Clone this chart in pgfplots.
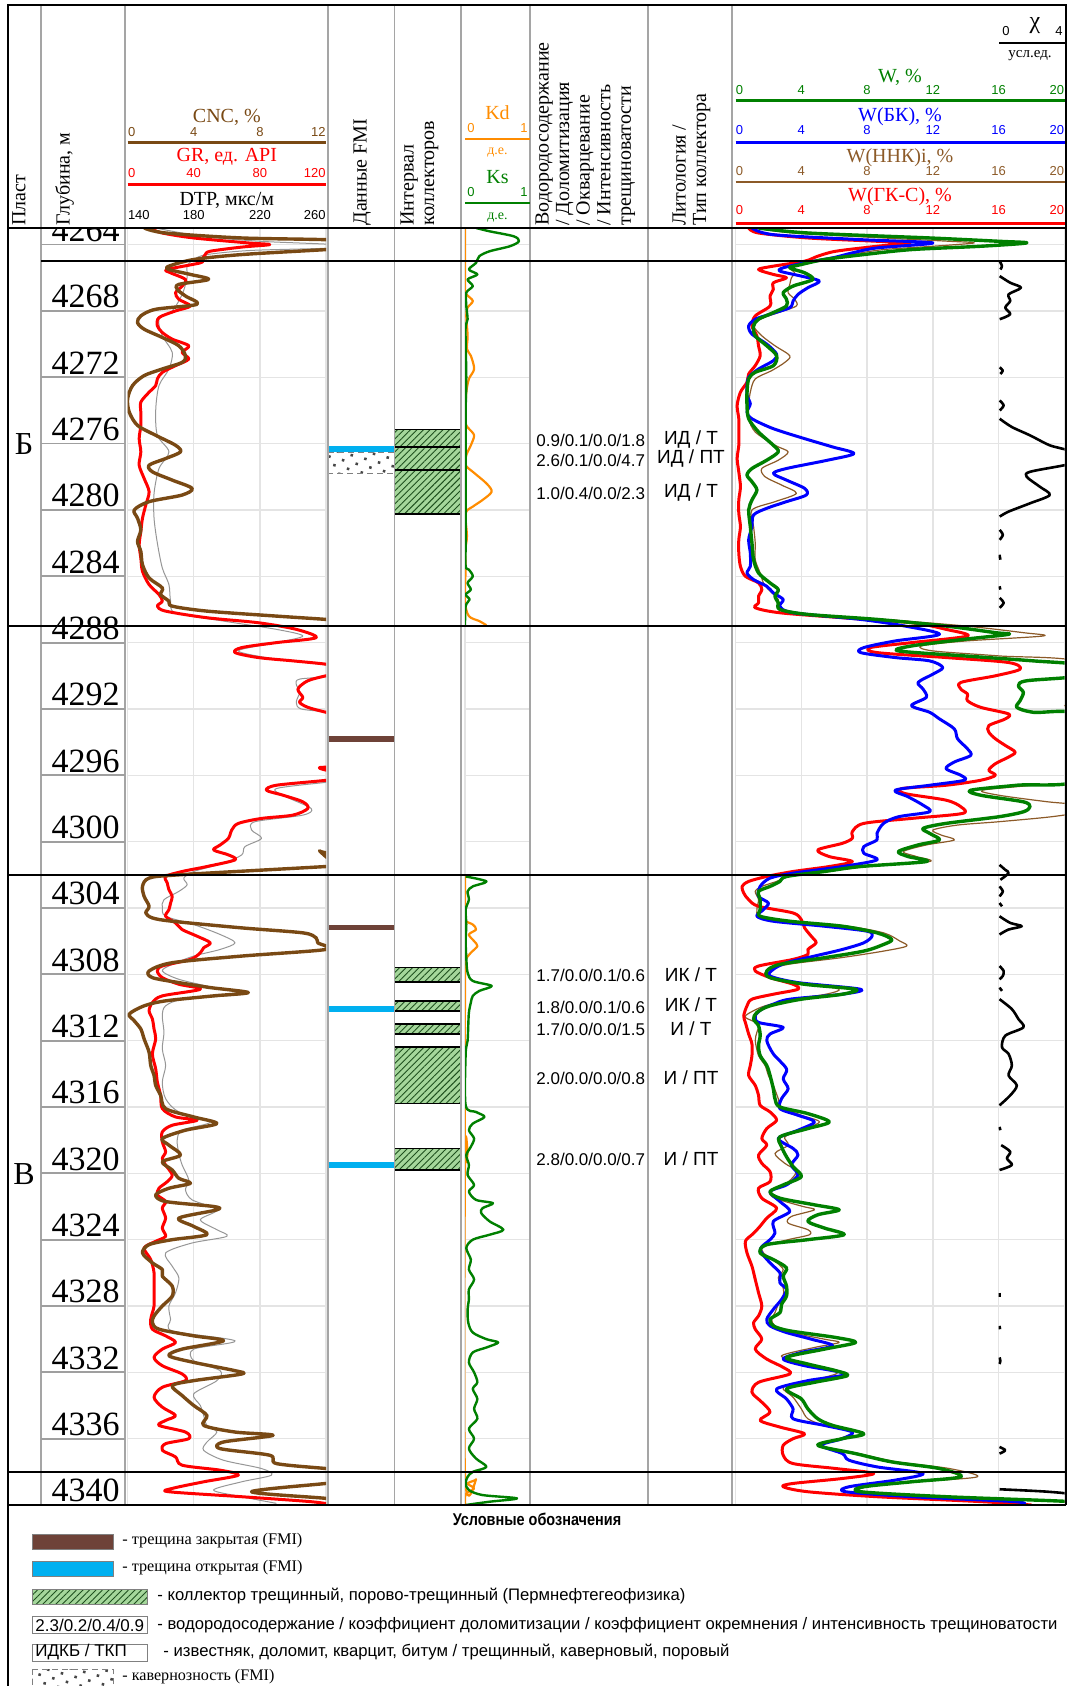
\documentclass[border=0pt]{standalone}
\usepackage{fontspec}
\setmainfont{Liberation Serif}
\setsansfont{Liberation Sans}
\usepackage{pgfplots}
\pgfplotsset{compat=1.18}
\usetikzlibrary{patterns.meta}
\definecolor{cnc}{RGB}{121,73,20}
\definecolor{dtp}{RGB}{150,150,150}
\definecolor{kd}{RGB}{255,140,0}
\definecolor{ks}{RGB}{0,128,0}
\definecolor{wg}{RGB}{0,128,0}
\definecolor{wb}{RGB}{0,0,255}
\definecolor{wn}{RGB}{140,90,40}
\definecolor{fmib}{RGB}{110,66,56}
\definecolor{fmio}{RGB}{0,176,240}
\definecolor{hfill}{RGB}{165,215,155}
\definecolor{hline}{RGB}{30,80,30}
\definecolor{colln}{RGB}{165,165,165}
\definecolor{gridc}{RGB}{228,228,228}
\pgfplotsset{
 trk/.style={scale only axis, anchor=north west, height=638.5pt, ymin=4263, ymax=4340, y dir=reverse,
   axis line style={draw=none}, tick style={draw=none}, xticklabels={}, yticklabels={}, clip=true},
 grd/.style={ytick={4264,4268,...,4340}, grid=major, major grid style={color=gridc, line width=0.7pt}},
 nog/.style={xtick=\empty, ytick=\empty},
 crv/.style={smooth, tension=0.5, no markers, line join=round},
 ibox/.style={fill=hfill, draw=black, line width=0.8pt, no markers, postaction={pattern={Lines[angle=45,distance=2.3pt,line width=0.45pt]}, pattern color=hline}},
 chi/.style={smooth, tension=0.5, no markers, line join=round, black, line width=1.3pt},
}
\tikzset{hd/.style={font=\fontsize{10}{10.3}\selectfont, inner sep=0pt},
 tk/.style={font=\sffamily\fontsize{6.5}{7}\selectfont, inner sep=0pt},
 dv/.style={font=\sffamily\fontsize{8.5}{9}\selectfont, inner sep=0pt, anchor=west},
 lt/.style={font=\sffamily\fontsize{9.5}{10}\selectfont, inner sep=0pt}}
\begin{document}
\begin{tikzpicture}
% ---------------- Track 1: DTP (with grid) ----------------
\begin{axis}[trk, grd, at={(63.8pt,-114pt)}, width=99.2pt, xmin=140, xmax=260, xtick={140,180,220,260}]
\addplot[crv, dtp, line width=0.5pt] coordinates {(157,4263.0) (185,4263.5) (220,4263.8) (265,4264.0) (265,4264.2) (215,4264.35) (188,4264.6) (180,4264.9) (176,4265.3) (176,4266) (173,4267) (167,4268) (159,4268.5) (161,4269.5) (167,4270.5) (165,4271.5) (159,4272.5) (157,4274) (158,4275.5) (165,4276.5) (159,4277.5) (156,4279) (156,4280.5) (158,4282) (161,4283.5) (165,4284.5) (166,4285.5) (169,4286.2) (198,4286.7) (230,4287.2) (246,4287.6) (230,4288.0) (207,4288.5) (230,4289.0) (262,4289.4) (262,4290.0) (244,4290.2) (242,4290.5) (244,4291) (242,4291.6) (245,4292) (262,4292.2) (275,4292.5) (275,4296.2) (262,4296.4) (230,4296.8) (236,4297.3) (251,4298) (246,4298.4) (217,4298.8) (215,4299.3) (221,4299.8) (211,4300.3) (209,4300.8) (198,4301.3) (180,4301.8) (174,4302.2) (176,4302.6) (171,4303) (162,4303.5) (161,4304) (163,4304.5) (180,4305) (196,4305.6) (205,4306.1) (196,4306.5) (180,4306.9) (167,4307.4) (161,4307.8) (171,4308.3) (192,4308.8) (209,4309.2) (174,4309.5) (163,4309.9) (161,4310.5) (162,4311.5) (161,4312.5) (163,4313.5) (161,4314.5) (163,4315.5) (171,4316.3) (190,4316.9) (173,4317.4) (170,4318) (171,4318.8) (173,4319.5) (177,4320.4) (175,4321) (179,4321.6) (194,4322.2) (184,4322.8) (194,4323.4) (200,4323.8) (179,4324.2) (163,4324.8) (167,4325.6) (171,4326.3) (169,4327.2) (165,4328) (166,4328.8) (167,4329.5) (205,4330.1) (180,4330.6) (180,4331.3) (196,4331.9) (194,4332.5) (180,4333.3) (184,4334) (186,4334.6) (188,4335.2) (194,4335.6) (188,4336.2) (186,4336.7) (198,4337.3) (221,4337.8) (227,4338.2) (209,4338.6) (192,4339.1) (209,4339.5) (230,4339.9)};
\end{axis}
% ---------------- Track 1: GR ----------------
\begin{axis}[trk, nog, at={(63.8pt,-114pt)}, width=99.2pt, xmin=0, xmax=120]
\addplot[crv, red, line width=1.5pt] coordinates {(13,4263.0) (21,4263.3) (40,4263.6) (73,4263.9) (86,4264.0) (69,4264.15) (50,4264.4) (47,4264.6) (45,4264.9) (44,4265.1) (24,4265.5) (26,4265.7) (35,4266.1) (33,4266.5) (29,4266.9) (31,4267.3) (38,4267.7) (29,4268.0) (19,4268.4) (18,4268.9) (21,4269.3) (27,4269.7) (37,4270.1) (33,4270.5) (37,4270.9) (29,4271.3) (21,4271.7) (18,4272.1) (17,4272.5) (13,4272.9) (8,4273.5) (8,4274.1) (8,4274.9) (7,4275.7) (8,4276.5) (7,4277.3) (10,4278.1) (13,4278.9) (11,4279.7) (9,4280.5) (8,4281.3) (7,4282.1) (8,4282.9) (9,4283.7) (13,4284.5) (19,4285.1) (21,4285.5) (18,4285.8) (23,4286.1) (48,4286.5) (79,4286.8) (102,4287.2) (114,4287.7) (90,4288.0) (69,4288.3) (65,4288.6) (79,4288.9) (100,4289.1) (120,4289.3) (130,4289.5) (130,4289.8) (120,4290.0) (109,4290.3) (103,4290.8) (106,4291.3) (104,4291.6) (109,4291.9) (120,4292.2) (130,4292.4) (130,4295.2) (116,4295.55) (130,4295.9) (130,4296.1) (120,4296.3) (90,4296.6) (84,4296.9) (94,4297.2) (106,4297.6) (109,4298.0) (100,4298.4) (81,4298.6) (67,4298.9) (63,4299.3) (61,4299.8) (56,4300.2) (52,4300.5) (61,4300.8) (65,4301.1) (48,4301.5) (33,4301.8) (23,4302.1) (24,4302.5) (25,4302.9) (27,4303.3) (26,4303.7) (25,4304.1) (23,4304.5) (29,4304.9) (33,4305.3) (42,4305.7) (50,4306.1) (46,4306.4) (44,4306.7) (38,4307.1) (21,4307.5) (18,4307.8) (21,4308.2) (31,4308.6) (44,4308.9) (21,4309.3) (15,4309.7) (13,4310.2) (15,4310.7) (16,4311.3) (17,4311.9) (15,4312.8) (17,4313.7) (18,4314.5) (20,4315.3) (21,4316.1) (29,4316.6) (42,4316.8) (27,4317.1) (21,4317.5) (21,4318.1) (23,4318.7) (21,4319.1) (23,4319.5) (27,4320.1) (24,4320.5) (19,4320.9) (18,4321.3) (23,4321.7) (21,4322.1) (23,4322.7) (21,4323.3) (23,4323.8) (17,4324.1) (10,4324.5) (14,4325.2) (16,4326.0) (16,4327.0) (16,4328.0) (14,4328.8) (15,4329.4) (23,4329.8) (29,4330.2) (21,4330.6) (16,4331.1) (21,4331.6) (33,4332.1) (35,4332.5) (21,4332.9) (16,4333.5) (21,4334.1) (29,4334.6) (23,4334.9) (19,4335.2) (35,4335.6) (37,4336.0) (23,4336.3) (21,4336.7) (29,4337.1) (33,4337.6) (56,4337.9) (67,4338.2) (46,4338.6) (27,4339.0) (25,4339.2) (69,4339.5) (111,4339.8) (125,4340.0)};
\end{axis}
% ---------------- Track 1: CNC ----------------
\begin{axis}[trk, nog, at={(63.8pt,-114pt)}, width=99.2pt, xmin=0, xmax=12]
\addplot[crv, cnc, line width=1.7pt] coordinates {(1.0,4263.0) (2.3,4263.3) (6.9,4263.6) (13,4263.75) (13,4264.2) (12,4264.3) (6.9,4264.6) (4.0,4264.9) (2.5,4265.3) (2.5,4265.5) (3.8,4265.8) (4.9,4266.1) (3.1,4266.4) (3.0,4266.7) (3.5,4267.1) (4.2,4267.6) (1.7,4267.9) (0.8,4268.3) (0.6,4268.7) (1.0,4269.1) (2.1,4269.6) (3.1,4270.1) (3.5,4270.7) (3.3,4271.1) (2.1,4271.5) (1.0,4271.9) (0.3,4272.5) (0.0,4273.3) (0.1,4274.1) (0.6,4274.9) (1.7,4275.5) (2.9,4276.1) (3.2,4276.5) (2.3,4276.9) (1.3,4277.3) (1.5,4277.7) (2.7,4278.2) (3.9,4278.7) (3.3,4279.1) (1.3,4279.5) (0.4,4280.0) (0.6,4280.5) (0.8,4281.2) (0.6,4281.9) (0.8,4282.5) (0.9,4283.3) (1.3,4284.1) (2.1,4284.7) (2.0,4285.1) (2.5,4285.5) (2.7,4285.8) (4.8,4286.1) (9.0,4286.4) (12,4286.6) (13,4286.7) (13,4300.2) (11.6,4300.55) (13,4300.9) (13,4301.4) (12,4301.5) (3.1,4302.0) (1.3,4302.2) (0.9,4302.7) (1.0,4303.3) (1.3,4303.9) (1.1,4304.3) (1.5,4304.6) (2.7,4304.8) (6.9,4305.2) (10.6,4305.5) (11.4,4305.8) (11.5,4306.1) (12,4306.5) (6.9,4306.9) (2.7,4307.3) (1.3,4307.8) (1.5,4308.2) (3.1,4308.5) (5.0,4308.8) (7.3,4309.1) (5.2,4309.3) (2.3,4309.6) (1.0,4309.9) (0.1,4310.4) (0.4,4310.8) (0.8,4311.3) (1.0,4311.9) (1.3,4312.7) (1.4,4313.5) (1.6,4314.1) (1.7,4314.7) (2.0,4315.3) (2.3,4316.1) (4.0,4316.6) (5.4,4317.0) (3.5,4317.4) (2.1,4317.9) (2.5,4318.3) (3.2,4318.9) (2.1,4319.3) (2.7,4319.8) (3.1,4320.3) (3.8,4320.6) (2.5,4320.9) (1.7,4321.3) (2.3,4321.7) (5.2,4322.0) (5.4,4322.2) (3.1,4322.7) (4.0,4323.2) (4.8,4323.7) (2.7,4324.0) (1.3,4324.3) (0.9,4324.8) (1.5,4325.4) (2.1,4325.8) (2.1,4326.2) (2.7,4326.8) (2.7,4327.4) (2.1,4328.0) (1.6,4328.6) (1.5,4329.0) (1.9,4329.4) (4.0,4329.8) (5.8,4330.1) (3.3,4330.6) (2.5,4331.0) (4.0,4331.4) (6.5,4331.9) (6.9,4332.1) (4.0,4332.5) (2.7,4332.8) (3.3,4333.4) (4.0,4334.0) (4.8,4334.6) (4.6,4335.2) (6.5,4335.6) (8.8,4335.8) (5.8,4336.2) (5.6,4336.6) (8.6,4337.0) (9.0,4337.5) (12,4337.8) (13,4337.9) (13,4338.6) (12,4338.7) (7.5,4339.2) (12,4339.6) (13,4339.8) (13,4340)};
\end{axis}
% ---------------- FMI column ----------------
\begin{axis}[trk, nog, clip=false, at={(164pt,-114pt)}, width=33.25pt, xmin=0, xmax=1]
\addplot[draw=gray, densely dashed, line width=0.4pt, no markers, pattern={Dots[distance=5pt,angle=30,radius=0.9pt]}, pattern color=gray!55!black] coordinates {(0,4276.5) (1,4276.5) (1,4277.8) (0,4277.8)} -- cycle;
\addplot[fill=fmio, draw=none, no markers] coordinates {(0,4276.15) (1,4276.15) (1,4276.5) (0,4276.5)} -- cycle;
\addplot[fill=fmib, draw=none, no markers] coordinates {(0,4293.6) (1,4293.6) (1,4294.0) (0,4294.0)} -- cycle;
\addplot[fill=fmib, draw=none, no markers] coordinates {(0,4305.0) (1,4305.0) (1,4305.35) (0,4305.35)} -- cycle;
\addplot[fill=fmio, draw=none, no markers] coordinates {(0,4309.9) (1,4309.9) (1,4310.25) (0,4310.25)} -- cycle;
\addplot[fill=fmio, draw=none, no markers] coordinates {(0,4319.3) (1,4319.3) (1,4319.7) (0,4319.7)} -- cycle;
\end{axis}
% ---------------- Collector intervals ----------------
\begin{axis}[trk, nog, clip=false, at={(197.25pt,-114pt)}, width=33.25pt, xmin=0, xmax=1]
\addplot[ibox] coordinates {(0,4275.14) (1,4275.14) (1,4276.22) (0,4276.22)} -- cycle;
\addplot[ibox] coordinates {(0,4276.22) (1,4276.22) (1,4277.59) (0,4277.59)} -- cycle;
\addplot[ibox] coordinates {(0,4277.59) (1,4277.59) (1,4280.25) (0,4280.25)} -- cycle;
\addplot[ibox] coordinates {(0,4307.6) (1,4307.6) (1,4308.45) (0,4308.45)} -- cycle;
\addplot[ibox] coordinates {(0,4309.6) (1,4309.6) (1,4310.2) (0,4310.2)} -- cycle;
\addplot[ibox] coordinates {(0,4311.0) (1,4311.0) (1,4311.6) (0,4311.6)} -- cycle;
\addplot[ibox] coordinates {(0,4312.4) (1,4312.4) (1,4315.8) (0,4315.8)} -- cycle;
\addplot[ibox] coordinates {(0,4318.5) (1,4318.5) (1,4319.8) (0,4319.8)} -- cycle;
\end{axis}
% ---------------- Kd / Ks ----------------
\begin{axis}[trk, grd, at={(232.5pt,-114pt)}, width=32.5pt, xmin=0, xmax=1, xtick={0,1}]
\addplot[crv, kd, line width=1.1pt] coordinates {(0,4263) (0,4266.8) (0.02,4267.0) (0.12,4267.4) (0.04,4267.8) (0.02,4268.3) (0.04,4269.5) (0.03,4270.3) (0.09,4270.7) (0.14,4271.5) (0.06,4272.1) (0.02,4272.9) (0.01,4273.8) (0.01,4274.8) (0.06,4275.1) (0.14,4275.5) (0.09,4276.1) (0.02,4276.7) (0.01,4277.3) (0.12,4277.7) (0.33,4278.4) (0.41,4278.9) (0.27,4279.4) (0.12,4279.8) (0.01,4280.2) (0.03,4281.6) (0.0,4282.5) (0.01,4283.4) (0.0,4285.5) (0.06,4286.4) (0.22,4286.7) (0.33,4286.95)};
\addplot[crv, kd, line width=1.1pt] coordinates {(0,4302.0) (0,4304.6) (0.01,4304.8) (0.12,4305.0) (0.17,4305.3) (0.06,4305.6) (0.14,4306.0) (0.19,4306.3) (0.09,4306.7) (0.01,4307.1) (0,4307.5) (0,4318.6) (0.04,4318.8) (0,4319.0) (0,4338.2) (0.17,4338.45) (0.04,4338.7) (0.14,4339.0) (0.02,4339.3) (0,4339.6) (0,4340)};
\addplot[crv, ks, line width=1.2pt] coordinates {(0.17,4263.0) (0.38,4263.2) (0.75,4263.5) (0.83,4263.8) (0.69,4264.1) (0.38,4264.4) (0.22,4264.7) (0.17,4265.1) (0.06,4265.5) (0.19,4265.8) (0.04,4266.1) (0.12,4266.5) (0.02,4266.9) (0.02,4267.7) (0.04,4268.5) (0.01,4268.9) (0.01,4270) (0.02,4272) (0.01,4274) (0.01,4276) (0.01,4278) (0.01,4280) (0.01,4282) (0.01,4283.4) (0.06,4283.6) (0.12,4284.0) (0.04,4284.4) (0.09,4284.8) (0.01,4285.1) (0.07,4285.4) (0.01,4285.8) (0.0,4287.0)};
\addplot[crv, ks, line width=1.2pt] coordinates {(0.01,4302.1) (0.33,4302.4) (0.12,4302.7) (0.04,4303.0) (0.06,4303.5) (0.01,4304.1) (0.02,4305) (0.01,4306) (0.02,4307) (0.04,4307.9) (0.12,4308.4) (0.41,4308.7) (0.22,4309.0) (0.12,4309.3) (0.09,4309.7) (0.06,4310.3) (0.05,4311.1) (0.04,4312.0) (0.01,4312.8) (0.01,4315.9) (0.17,4316.3) (0.30,4316.6) (0.12,4317.0) (0.06,4317.4) (0.14,4317.9) (0.09,4318.4) (0.02,4318.9) (0.06,4319.5) (0.04,4320.1) (0.14,4320.7) (0.06,4321.1) (0.17,4321.6) (0.43,4321.8) (0.27,4322.1) (0.25,4322.4) (0.38,4322.9) (0.59,4323.4) (0.38,4323.7) (0.12,4324.0) (0.02,4324.5) (0.09,4325.2) (0.06,4325.8) (0.14,4326.4) (0.06,4327.0) (0.06,4327.6) (0.04,4328.2) (0.05,4329.0) (0.12,4329.6) (0.33,4330.0) (0.51,4330.2) (0.33,4330.5) (0.12,4330.8) (0.06,4331.4) (0.14,4332.0) (0.19,4332.6) (0.12,4333.0) (0.19,4333.6) (0.14,4334.2) (0.19,4334.8) (0.06,4335.4) (0.14,4336.0) (0.06,4336.6) (0.17,4337.2) (0.33,4337.7) (0.12,4338.0) (0.04,4338.3) (0.01,4338.7) (0.06,4339.1) (0.27,4339.4) (0.80,4339.6) (0.38,4339.8) (0.01,4340.0)};
\end{axis}
% ---------------- W track ----------------
\begin{axis}[trk, grd, at={(367.75pt,-114pt)}, width=164.5pt, xmin=0, xmax=20, xtick={0,4,...,20}]
\addplot[crv, wn, line width=0.6pt] coordinates {(1.2,4263.0) (3.5,4263.3) (9,4263.6) (13,4263.8) (14.5,4263.9) (12,4264.1) (9,4264.3) (7,4264.6) (5.2,4264.9) (4.0,4265.2) (3.3,4265.4) (3.6,4265.7) (3.4,4266.0) (3.3,4266.4) (3.2,4266.9) (3.6,4267.3) (3.7,4267.7) (2.6,4268.1) (1.5,4268.5) (1.1,4268.9) (1.6,4269.5) (2.4,4270.1) (3.3,4270.7) (3.0,4271.1) (2.2,4271.6) (1.2,4272.1) (0.9,4272.9) (0.8,4273.7) (0.8,4274.5) (1.2,4275.3) (2.4,4276.1) (3.2,4276.5) (2.6,4277.0) (1.6,4277.5) (1.8,4278.0) (2.8,4278.5) (3.7,4279.0) (2.4,4279.5) (1.0,4280.0) (1.1,4281.0) (1.2,4282.0) (1.2,4283.0) (1.5,4283.8) (1.7,4284.4) (2.0,4284.8) (2.6,4285.4) (2.7,4286.0) (4.5,4286.3) (9,4286.6) (14,4287.0) (17.5,4287.4) (18.7,4287.6) (14,4287.9) (11.3,4288.2) (12,4288.5) (16,4288.8) (21,4289.2) (21,4291.5) (20,4291.8) (21,4292.0) (21,4296.2) (18,4296.6) (15,4296.9) (16,4297.2) (19,4297.6) (21,4297.8) (21,4298.2) (19.2,4298.5) (16,4298.8) (13.5,4299.0) (12.0,4299.3) (12.5,4299.6) (13.3,4299.9) (11.6,4300.2) (10.2,4300.6) (11,4300.9) (11.8,4301.2) (8,4301.5) (5.6,4301.8) (3.3,4302.1) (2.5,4302.4) (1.6,4302.7) (1.2,4303.0) (1.4,4303.5) (1.3,4304.1) (1.5,4304.5) (3.4,4304.8) (6.8,4305.1) (9.0,4305.5) (10.0,4306.0) (10.4,4306.3) (9.0,4306.6) (6.4,4307.0) (3.2,4307.4) (1.9,4307.8) (2.0,4308.2) (4.5,4308.6) (6.3,4308.9) (5.5,4309.2) (3.5,4309.5) (1.8,4309.9) (0.9,4310.3) (0.6,4310.6) (1.4,4311.0) (1.3,4311.5) (1.2,4312.0) (1.4,4312.9) (1.8,4313.5) (2.0,4314.1) (2.3,4314.7) (2.6,4315.5) (2.8,4316.0) (4.0,4316.5) (5.1,4316.9) (4.0,4317.4) (3.0,4317.8) (3.2,4318.3) (2.4,4318.8) (3.0,4319.4) (3.7,4319.9) (3.0,4320.7) (2.1,4321.1) (2.4,4321.5) (4.1,4322.0) (4.8,4322.2) (3.4,4322.6) (3.2,4323.0) (4.4,4323.4) (4.5,4323.7) (3.2,4324.0) (1.7,4324.4) (1.7,4324.8) (2.4,4325.3) (2.9,4325.8) (2.6,4326.3) (2.9,4326.9) (2.9,4327.4) (2.6,4327.9) (2.4,4328.4) (2.2,4328.8) (2.4,4329.2) (3.4,4329.6) (5.4,4330.0) (6.3,4330.2) (4.8,4330.5) (2.8,4331.0) (4.0,4331.4) (5.9,4331.9) (6.1,4332.1) (4.6,4332.5) (2.9,4332.9) (3.5,4333.5) (4.0,4334.2) (4.4,4334.8) (5.4,4335.2) (7.1,4335.6) (6.3,4336.0) (5.0,4336.4) (7.5,4336.9) (9.8,4337.4) (13,4337.8) (14.7,4338.3) (11,4338.6) (8.0,4338.9) (7.8,4339.2) (12.5,4339.5) (20,4339.8) (21,4340)};
\addplot[crv, red, line width=1.5pt] coordinates {(0.8,4263.0) (1.4,4263.3) (4.4,4263.6) (8.6,4263.8) (10.6,4263.9) (8.6,4264.1) (6.1,4264.4) (5.0,4264.7) (4.2,4265.0) (2.3,4265.3) (1.4,4265.5) (2.3,4265.8) (3.1,4266.0) (2.3,4266.3) (2.3,4266.7) (2.1,4267.1) (2.1,4267.7) (1.2,4268.3) (1.0,4268.9) (1.3,4269.5) (1.4,4270.1) (1.5,4270.7) (1.2,4271.3) (0.8,4271.8) (0.7,4272.3) (0.3,4272.9) (0.1,4273.7) (0.2,4274.5) (0.2,4275.3) (0.2,4276.1) (0.1,4276.9) (0.2,4277.7) (0.3,4278.6) (0.2,4279.4) (0.2,4280.2) (0.3,4281.0) (0.2,4281.8) (0.2,4282.6) (0.3,4283.4) (0.6,4284.0) (1.4,4284.4) (1.6,4284.8) (1.4,4285.2) (1.4,4285.6) (1.2,4285.9) (2.7,4286.2) (6.5,4286.5) (10.7,4286.8) (12.8,4287.2) (14.1,4287.6) (10.7,4288.0) (8.2,4288.3) (8.6,4288.6) (12.8,4288.9) (16.6,4289.2) (17.3,4289.6) (15.8,4290.0) (13.7,4290.4) (13.7,4290.8) (14.1,4291.1) (14.1,4291.5) (14.9,4291.9) (16.6,4292.3) (16.4,4292.6) (15.4,4293.0) (15.4,4293.4) (15.8,4293.8) (16.4,4294.2) (17.0,4294.6) (16.6,4294.9) (15.8,4295.3) (15.4,4295.7) (15.8,4296.0) (14.9,4296.3) (12.8,4296.6) (10.1,4296.8) (10.3,4297.1) (12.8,4297.5) (13.7,4297.9) (13.8,4298.3) (10.7,4298.6) (7.8,4298.9) (7.1,4299.4) (7.1,4299.8) (6.5,4300.1) (5.0,4300.5) (5.7,4300.9) (7.1,4301.2) (5.7,4301.5) (3.5,4301.8) (1.9,4302.1) (0.8,4302.4) (0.4,4302.7) (0.5,4303.1) (0.8,4303.5) (1.4,4303.9) (3.5,4304.3) (4.0,4304.7) (4.2,4305.2) (4.6,4305.7) (4.9,4306.1) (4.4,4306.5) (4.4,4306.8) (3.5,4307.1) (1.4,4307.5) (1.2,4307.8) (2.1,4308.2) (3.5,4308.6) (3.8,4308.9) (2.3,4309.2) (1.0,4309.5) (0.7,4309.9) (0.5,4310.5) (0.6,4310.9) (0.8,4311.6) (1.0,4312.2) (1.0,4312.9) (0.9,4313.5) (0.8,4314.1) (1.2,4314.7) (1.4,4315.3) (1.5,4315.9) (2.1,4316.3) (2.5,4316.8) (1.9,4317.3) (1.6,4317.9) (1.9,4318.3) (1.4,4318.9) (1.6,4319.4) (2.1,4319.9) (2.1,4320.5) (1.4,4320.9) (1.6,4321.5) (2.5,4322.1) (1.9,4322.7) (1.4,4323.3) (1.0,4323.7) (0.6,4324.1) (0.7,4324.8) (1.0,4325.6) (1.2,4326.4) (1.4,4327.2) (1.6,4328.0) (1.4,4328.6) (1.1,4329.0) (1.2,4329.4) (1.6,4330.0) (1.2,4330.6) (1.9,4331.2) (2.9,4331.7) (3.3,4332.1) (1.4,4332.6) (1.0,4333.2) (1.6,4333.8) (2.1,4334.4) (1.5,4334.9) (2.7,4335.3) (4.2,4335.7) (3.5,4336.0) (2.9,4336.4) (2.9,4337.0) (3.5,4337.5) (6.1,4337.8) (8.4,4338.1) (6.5,4338.4) (3.5,4338.7) (2.9,4338.9) (4.4,4339.2) (8.6,4339.5) (15.0,4339.8) (18,4340)};
\addplot[crv, wb, line width=1.5pt] coordinates {(1.0,4263.0) (2.3,4263.4) (7.6,4263.7) (12.0,4263.9) (8.6,4264.2) (7.1,4264.5) (5.9,4264.8) (4.2,4265.1) (2.9,4265.4) (2.7,4265.6) (4.0,4265.9) (5.1,4266.2) (4.4,4266.6) (3.8,4267.0) (3.5,4267.4) (3.3,4267.8) (2.1,4268.2) (1.2,4268.5) (0.8,4268.9) (1.0,4269.4) (1.9,4270.0) (2.5,4270.6) (2.3,4271.0) (1.4,4271.5) (0.8,4272.0) (0.7,4272.5) (0.7,4273.1) (0.9,4273.6) (0.7,4274.1) (1.0,4274.5) (2.3,4275.1) (4.2,4275.7) (5.9,4276.2) (7.2,4276.6) (5.6,4277.0) (3.1,4277.5) (2.3,4277.8) (3.1,4278.2) (4.2,4278.7) (4.3,4279.1) (3.1,4279.5) (1.9,4279.9) (1.1,4280.3) (1.0,4281.0) (0.8,4281.8) (0.9,4282.6) (0.9,4283.4) (0.7,4283.8) (1.1,4284.2) (1.9,4284.6) (2.3,4285.0) (2.9,4285.4) (2.7,4285.8) (3.5,4286.2) (7.6,4286.6) (10.3,4287.0) (12.4,4287.5) (9.7,4287.9) (7.8,4288.3) (7.6,4288.6) (9.7,4288.9) (11.8,4289.1) (12.6,4289.5) (12.0,4289.9) (11.1,4290.4) (11.4,4290.8) (11.6,4291.3) (10.7,4291.8) (11.8,4292.2) (12.4,4292.6) (13.3,4293.2) (13.5,4293.8) (14.1,4294.4) (14.3,4294.8) (13.3,4295.2) (12.8,4295.6) (13.7,4296.0) (13.9,4296.3) (11.8,4296.6) (9.7,4296.9) (10.5,4297.3) (11.4,4297.8) (11.8,4298.2) (9.9,4298.5) (9.0,4298.9) (8.6,4299.5) (8.6,4299.9) (7.8,4300.3) (7.8,4300.7) (8.6,4301.1) (6.5,4301.5) (3.5,4301.9) (2.1,4302.2) (1.5,4302.7) (1.4,4303.3) (2.0,4303.7) (1.7,4304.1) (1.3,4304.5) (2.3,4304.8) (5.4,4305.1) (8.0,4305.4) (8.3,4305.7) (7.8,4306.1) (6.5,4306.5) (4.8,4306.9) (3.1,4307.3) (2.3,4307.7) (2.1,4308.1) (3.8,4308.5) (7.6,4308.9) (6.5,4309.2) (3.3,4309.5) (2.3,4309.8) (1.6,4310.1) (1.2,4310.5) (1.4,4310.9) (2.9,4311.2) (2.1,4311.6) (1.9,4312.0) (2.3,4312.8) (3.1,4313.7) (2.9,4314.3) (3.2,4314.9) (2.8,4315.5) (2.7,4316.1) (3.8,4316.5) (4.8,4316.9) (3.8,4317.4) (2.6,4317.9) (3.5,4318.5) (3.8,4318.9) (3.4,4319.5) (3.8,4320.1) (3.1,4320.7) (2.1,4321.1) (2.7,4321.7) (3.3,4322.3) (2.3,4322.9) (2.4,4323.6) (2.1,4324.0) (1.5,4324.6) (2.1,4325.4) (2.7,4326.0) (2.7,4326.6) (3.1,4327.0) (2.8,4327.6) (2.3,4328.2) (1.9,4328.8) (2.1,4329.2) (3.1,4329.6) (4.6,4330.0) (5.9,4330.4) (4.0,4330.8) (2.9,4331.2) (4.2,4331.6) (6.7,4332.1) (4.4,4332.5) (2.5,4333.0) (3.1,4333.6) (3.5,4334.2) (3.5,4334.8) (5.4,4335.2) (7.1,4335.6) (6.5,4336.0) (5.2,4336.4) (6.5,4336.9) (6.9,4337.3) (8.6,4337.7) (11.4,4338.1) (9.7,4338.5) (6.9,4338.9) (6.7,4339.2) (10.7,4339.5) (17.0,4339.8) (17.5,4340.0)};
\addplot[crv, wg, line width=1.7pt] coordinates {(1.4,4263.0) (4.4,4263.3) (11.8,4263.6) (16.0,4263.8) (17.7,4263.9) (14.9,4264.1) (10.7,4264.3) (7.8,4264.6) (5.4,4264.9) (4.0,4265.2) (3.3,4265.4) (4.2,4265.7) (4.7,4266.1) (3.5,4266.5) (2.9,4266.9) (3.1,4267.3) (3.1,4267.7) (2.3,4268.1) (1.4,4268.5) (1.1,4268.9) (1.2,4269.5) (1.9,4270.1) (2.5,4270.7) (2.3,4271.3) (1.2,4271.7) (0.8,4272.1) (0.7,4272.9) (0.7,4273.7) (0.8,4274.5) (1.4,4275.3) (2.3,4276.1) (2.6,4276.5) (1.9,4277.0) (1.0,4277.5) (0.7,4277.9) (1.0,4278.3) (1.3,4278.8) (1.0,4279.4) (0.8,4280.0) (0.9,4281.0) (1.0,4282.0) (1.1,4283.0) (1.4,4283.8) (2.1,4284.4) (2.6,4284.8) (2.4,4285.2) (2.6,4285.6) (2.7,4286.0) (4.4,4286.3) (8.6,4286.6) (12.8,4287.0) (15.8,4287.4) (16.6,4287.5) (13.9,4287.8) (10.7,4288.2) (9.9,4288.5) (13.9,4288.8) (18.1,4289.1) (21,4289.35) (21,4290.0) (17.7,4290.3) (17.2,4290.6) (17.5,4291.0) (17.3,4291.5) (17.1,4291.9) (18.1,4292.2) (21,4292.45) (21,4296.2) (17.1,4296.6) (14.3,4296.9) (14.9,4297.2) (17.5,4297.6) (17.9,4297.9) (17.5,4298.2) (16.0,4298.5) (12.8,4298.9) (11.4,4299.2) (11.8,4299.5) (12.4,4299.9) (11.1,4300.2) (9.9,4300.6) (10.5,4300.9) (11.6,4301.2) (7.6,4301.5) (5.4,4301.8) (3.1,4302.1) (2.7,4302.4) (2.1,4302.7) (1.4,4303.0) (1.5,4303.5) (1.5,4304.1) (1.5,4304.5) (3.3,4304.8) (6.5,4305.1) (8.6,4305.5) (9.5,4305.9) (9.0,4306.2) (7.8,4306.6) (5.4,4307.0) (2.7,4307.4) (1.9,4307.8) (2.1,4308.2) (4.2,4308.6) (7.3,4308.9) (6.5,4309.2) (4.0,4309.5) (2.1,4309.9) (1.3,4310.3) (1.1,4310.7) (1.4,4311.1) (1.5,4311.7) (1.4,4312.3) (1.5,4312.9) (1.9,4313.5) (2.1,4314.1) (2.3,4314.9) (2.4,4315.5) (2.7,4316.0) (4.4,4316.4) (5.7,4316.9) (4.4,4317.3) (2.7,4317.8) (2.8,4318.4) (3.1,4319.0) (3.5,4319.6) (4.0,4320.2) (2.9,4320.7) (2.1,4321.1) (2.7,4321.5) (4.8,4321.9) (6.3,4322.2) (5.0,4322.5) (4.4,4322.9) (5.4,4323.3) (6.6,4323.7) (4.4,4324.0) (1.9,4324.3) (1.5,4324.8) (2.3,4325.2) (3.1,4325.7) (2.9,4326.2) (3.1,4326.8) (3.1,4327.4) (2.8,4327.9) (2.7,4328.4) (2.1,4328.8) (2.3,4329.2) (3.3,4329.5) (6.1,4329.9) (7.3,4330.2) (5.4,4330.6) (3.1,4331.1) (4.4,4331.5) (6.1,4331.9) (6.8,4332.2) (4.8,4332.6) (3.1,4333.0) (4.0,4333.6) (4.4,4334.2) (5.0,4334.8) (5.9,4335.2) (7.8,4335.7) (6.5,4336.0) (5.0,4336.4) (7.3,4336.9) (9.5,4337.4) (12.4,4337.8) (13.7,4338.3) (10.7,4338.6) (7.8,4338.9) (7.6,4339.2) (12.8,4339.5) (20.5,4339.8) (21,4340)};
\end{axis}
% ---------------- chi (0-4) ----------------
\begin{axis}[trk, nog, at={(499.35pt,-114pt)}, width=32.9pt, xmin=0, xmax=4]
\addplot[chi] coordinates {(0.06,4265.0) (0.2,4265.3) (0.1,4265.5)};
\addplot[chi] coordinates {(0.06,4265.9) (0.7,4266.3) (1.35,4266.6) (0.6,4267.0) (0.7,4267.4) (0.4,4267.8) (0.7,4268.2) (0.06,4268.5)};
\addplot[chi] coordinates {(0.06,4271.4) (0.25,4271.6) (0.1,4271.8)};
\addplot[chi] coordinates {(0.06,4273.4) (0.3,4273.7) (0.06,4274.0)};
\addplot[chi] coordinates {(0.06,4274.5) (0.8,4275.0) (1.9,4275.5) (3.1,4276.1) (4.2,4276.4) (4.5,4276.7) (4.5,4277.1) (4.0,4277.3) (1.9,4277.7) (1.7,4278.0) (2.5,4278.6) (3.1,4279.1) (1.9,4279.6) (0.6,4280.1) (0.06,4280.4)};
\addplot[chi] coordinates {(0.06,4281.2) (0.25,4281.5) (0.06,4281.8)};
\addplot[chi] coordinates {(0.05,4282.7) (0.1,4283.0)};
\addplot[chi] coordinates {(0.05,4284.6) (0.1,4284.8)};
\addplot[chi] coordinates {(0.06,4285.3) (0.3,4285.6) (0.06,4285.9)};
\addplot[chi] coordinates {(0.05,4301.4) (0.4,4301.7) (0.6,4301.9) (0.1,4302.3)};
\addplot[chi] coordinates {(0.05,4302.7) (0.25,4303.0) (0.05,4303.3)};
\addplot[chi] coordinates {(0.05,4303.7) (0.2,4303.9)};
\addplot[chi] coordinates {(0.05,4304.5) (0.7,4304.9) (1.4,4305.1) (0.6,4305.3) (0.05,4305.6)};
\addplot[chi] coordinates {(0.05,4307.5) (0.3,4307.8) (0.25,4308.1) (0.05,4308.3)};
\addplot[chi] coordinates {(0.05,4308.8) (0.2,4309.0)};
\addplot[chi] coordinates {(0.05,4309.5) (0.8,4310.1) (1.2,4310.7) (1.5,4311.2) (0.4,4311.7) (0.2,4312.4) (0.6,4312.8) (0.8,4313.5) (0.6,4314.1) (1.1,4314.7) (0.7,4315.3) (0.05,4315.9)};
\addplot[chi] coordinates {(0.05,4317.2) (0.1,4317.4)};
\addplot[chi] coordinates {(0.15,4318.3) (0.7,4318.7) (0.5,4319.1) (0.8,4319.5) (0.05,4319.8)};
\addplot[chi] coordinates {(0.05,4327.2) (0.05,4327.45)};
\addplot[chi] coordinates {(0.05,4329.2) (0.08,4329.4)};
\addplot[chi] coordinates {(0.05,4331.1) (0.1,4331.3) (0.05,4331.5)};
\addplot[chi] coordinates {(0.05,4336.5) (0.4,4336.7) (0.05,4336.9)};
\addplot[chi] coordinates {(0.05,4339.05) (3,4339.2) (4.5,4339.4) (4.5,4340)};
\end{axis}
% ---------------- framework, header, annotations ----------------
\begin{scope}[x=0.5pt,y=-0.5pt]
\foreach \xx in {41,125,328,394.5,461,530,648,732} \draw[colln, line width=0.9pt] (\xx,5) -- (\xx,1505);
\begin{scope}
\clip (41,228) rectangle (125,1505);
\foreach \d in {4264,4268,...,4340}{
 \pgfmathsetmacro{\yy}{228+(\d-4263)*16.584}
 \draw[gray!75, line width=0.9pt] (41,\yy) -- (125,\yy);
 \node[font=\fontsize{17}{17}\selectfont, anchor=base east, inner sep=0pt] at (120,{\yy-3}) {\d};
}
\end{scope}
\draw[black, line width=0.8pt] (8,228) -- (1066,228);
\draw[black, line width=0.8pt] (41,261.2) -- (1066,261.2);
\foreach \yy in {626.0,874.8,1471.8} \draw[black,line width=0.8pt] (8,\yy) -- (1066,\yy);
\draw[black, line width=0.9pt] (8,1686) -- (8,5) -- (1066,5) -- (1066,1505);
\draw[black, line width=0.9pt] (8,1505) -- (1066,1505);
% formation labels
\node[font=\fontsize{16}{16}\selectfont, inner sep=0pt] at (24,444) {Б};
\node[font=\fontsize{16}{16}\selectfont, inner sep=0pt] at (24,1174) {В};
% vertical headers
\node[hd, rotate=90, anchor=north west] at (12,226) {Пласт};
\node[hd, rotate=90, anchor=north west] at (55,226) {Глубина, м};
\node[hd, rotate=90, anchor=north west] at (353,226) {Данные FMI};
\node[hd, rotate=90, anchor=north west, align=left] at (400,226) {Интервал\\коллекторов};
\node[hd, rotate=90, anchor=north west, align=left] at (535,226) {Водородосодержание\\/ Доломитизация\\/ Окварцевание\\/ Интенсивность\\трещиноватости};
\node[hd, rotate=90, anchor=north west, align=left] at (672,226) {Литология /\\Тип коллектора};
% track 1 header
\node[hd, text=cnc] at (226.8,117) {CNC, \%};
\node[tk, text=cnc, anchor=west] at (127.6,132) {0};
\node[tk, text=cnc] at (193.7,132) {4};
\node[tk, text=cnc] at (259.9,132) {8};
\node[tk, text=cnc, anchor=east] at (326,132) {12};
\draw[cnc, line width=1.5pt] (127.6,143) -- (326,143);
\node[hd, text=red] at (226.8,157) {GR, ед. API};
\node[tk, text=red, anchor=west] at (127.6,173) {0};
\node[tk, text=red] at (193.7,173) {40};
\node[tk, text=red] at (259.9,173) {80};
\node[tk, text=red, anchor=east] at (326,173) {120};
\draw[red, line width=1.5pt] (127.6,184) -- (326,184);
\node[hd] at (226.8,200) {DTP, мкс/м};
\node[tk, anchor=west] at (127.6,215) {140};
\node[tk] at (193.7,215) {180};
\node[tk] at (259.9,215) {220};
\node[tk, anchor=east] at (326,215) {260};
% Kd Ks header
\node[hd, text=kd] at (497.5,113) {Kd};
\node[tk, text=kd, anchor=west] at (467,128) {0};
\node[tk, text=kd, anchor=east] at (528,128) {1};
\draw[kd, line width=1.2pt] (465,139) -- (530,139);
\node[font=\fontsize{7}{8}\selectfont, text=kd, inner sep=0pt] at (497.5,153) {д.е.};
\node[hd, text=ks] at (497.5,177) {Ks};
\node[tk, text=ks, anchor=west] at (467,192) {0};
\node[tk, text=ks, anchor=east] at (528,192) {1};
\draw[ks, line width=1.2pt] (465,203) -- (530,203);
\node[font=\fontsize{7}{8}\selectfont, text=ks, inner sep=0pt] at (497.5,218) {д.е.};
% W header
\draw[black, line width=1.3pt] (999,43) -- (1066,43);
\node[tk, anchor=west] at (1002,31) {0};
\node[font=\fontsize{12}{12}\selectfont, inner sep=0pt] at (1035,26) {χ};
\node[tk, anchor=east] at (1063,31) {4};
\node[font=\fontsize{7.5}{8}\selectfont, inner sep=0pt] at (1030,56) {усл.ед.};
\foreach \t/\c/\yt/\yl/\lw in {{W, \%}/wg/77/101/1.5pt, {W(БК), \%}/wb/117/143/1.5pt, {W(ННК)i, \%}/wn/158/182/0.8pt, {W(ГК-С), \%}/red/197/223/1.5pt}{
 \node[hd, text=\c] at (900,\yt) {\t};
 \node[tk, text=\c, anchor=west] at (735.5,{\yt+13}) {0};
 \node[tk, text=\c] at (801.3,{\yt+13}) {4};
 \node[tk, text=\c] at (867.1,{\yt+13}) {8};
 \node[tk, text=\c] at (932.9,{\yt+13}) {12};
 \node[tk, text=\c] at (998.7,{\yt+13}) {16};
 \node[tk, text=\c, anchor=east] at (1064.5,{\yt+13}) {20};
 \draw[\c, line width=\lw] (735.5,\yl) -- (1064.5,\yl);
}
% interpretation texts
\node[dv] at (536,440) {0.9/0.1/0.0/1.8};
\node[dv] at (536,460) {2.6/0.1/0.0/4.7};
\node[dv] at (536,493) {1.0/0.4/0.0/2.3};
\node[dv] at (536,975) {1.7/0.0/0.1/0.6};
\node[dv] at (536,1007) {1.8/0.0/0.1/0.6};
\node[dv] at (536,1029) {1.7/0.0/0.0/1.5};
\node[dv] at (536,1078) {2.0/0.0/0.0/0.8};
\node[dv] at (536,1159) {2.8/0.0/0.0/0.7};
\node[lt] at (691,440) {ИД / Т};
\node[lt] at (691,459) {ИД / ПТ};
\node[lt] at (691,493) {ИД / Т};
\node[lt] at (691,975) {ИК / Т};
\node[lt] at (691,1005) {ИК / Т};
\node[lt] at (691,1029) {И / Т};
\node[lt] at (691,1078) {И / ПТ};
\node[lt] at (691,1159) {И / ПТ};
% legend
\node[font=\sffamily\bfseries\fontsize{8.5}{9}\selectfont, inner sep=0pt] at (537,1519) {\scalebox{0.85}[1]{Условные обозначения}};
\fill[fmib] (32,1534) rectangle (113,1549); \draw[gray, line width=0.4pt] (32,1534) rectangle (113,1549);
\node[inner sep=0pt, anchor=west] at (122,1541) {\resizebox{90pt}{!}{\fontsize{9}{10}\selectfont - трещина закрытая (FMI)}};
\fill[fmio] (32,1561) rectangle (113,1576); \draw[gray, line width=0.4pt] (32,1561) rectangle (113,1576);
\node[inner sep=0pt, anchor=west] at (122,1568) {\resizebox{90pt}{!}{\fontsize{9}{10}\selectfont - трещина открытая (FMI)}};
\fill[hfill] (32,1589) rectangle (147,1604);
\fill[pattern={Lines[angle=45,distance=2.3pt,line width=0.45pt]}, pattern color=hline] (32,1589) rectangle (147,1604);
\draw[gray, line width=0.4pt] (32,1589) rectangle (147,1604);
\node[inner sep=0pt, anchor=west] at (157,1596) {\resizebox{264pt}{!}{\sffamily\fontsize{9}{10}\selectfont - коллектор трещинный, порово-трещинный (Пермнефтегеофизика)}};
\draw[gray, line width=0.5pt] (32,1616) rectangle (147,1633);
\node[dv] at (35,1625) {2.3/0.2/0.4/0.9};
\node[inner sep=0pt, anchor=west] at (157,1625) {\resizebox{450pt}{!}{\sffamily\fontsize{9}{10}\selectfont - водородосодержание / коэффициент доломитизации / коэффициент окремнения / интенсивность трещиноватости}};
\draw[gray, line width=0.5pt] (32,1644) rectangle (147,1661);
\node[dv] at (35,1652) {ИДКБ / ТКП};
\node[inner sep=0pt, anchor=west] at (163,1652) {\resizebox{283pt}{!}{\sffamily\fontsize{9}{10}\selectfont - известняк, доломит, кварцит, битум / трещинный, каверновый, поровый}};
\fill[pattern={Dots[distance=5pt,angle=30,radius=0.9pt]}, pattern color=gray!55!black] (32,1669) rectangle (113,1686);
\draw[gray, densely dashed, line width=0.4pt] (32,1669) rectangle (113,1686);
\node[inner sep=0pt, anchor=west] at (122,1677) {\resizebox{76pt}{!}{\fontsize{9}{10}\selectfont - кавернозность (FMI)}};
\end{scope}
\pgfresetboundingbox
\path[use as bounding box] (0,0) rectangle (537pt,-843pt);
\end{tikzpicture}
\end{document}
